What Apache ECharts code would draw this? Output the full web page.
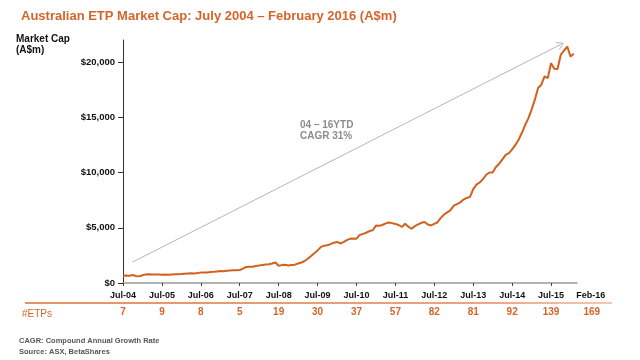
<!DOCTYPE html>
<html>
<head>
<meta charset="utf-8">
<script src="https://cdn.jsdelivr.net/npm/echarts@6/dist/echarts.min.js"></script>
<style>html,body{margin:0;padding:0;background:#fff}#c{width:640px;height:360px}</style>
</head>
<body>
<div id="c"></div>
<script>
// Monthly categories Jul-04 .. Feb-16 (plus one empty month so the axis runs slightly past Feb-16)
const monthNames = ['Jan','Feb','Mar','Apr','May','Jun','Jul','Aug','Sep','Oct','Nov','Dec'];
const months = [];
for (let k = 0; k < 141; k++) {
  const m = (6 + k) % 12, y = 4 + Math.floor((6 + k) / 12);
  months.push(monthNames[m] + '-' + String(y).padStart(2, '0'));
}
// Market cap (A$m), one value per month Jul-04 .. Feb-16
const marketCap = [
  650,680,660,720,640,600,700,780,800,770,760,770,
  750,760,740,770,790,800,810,840,860,880,870,900,
  940,950,960,990,1010,1050,1080,1060,1100,1140,1160,1150,
  1180,1300,1450,1470,1480,1530,1580,1640,1680,1690,1760,1860,
  1560,1620,1650,1580,1620,1660,1770,1850,1990,2200,2450,2700,
  2950,3250,3380,3420,3520,3650,3720,3580,3700,3880,4000,4030,
  4010,4350,4450,4550,4700,4780,5200,5180,5250,5400,5480,5420,
  5350,5250,5070,5370,5100,4910,5150,5300,5450,5520,5300,5210,
  5350,5500,5900,6200,6400,6600,7000,7150,7300,7550,7700,7800,
  8500,8900,9100,9400,9800,10000,10000,10500,10800,11200,11600,11760,
  12100,12500,12970,13600,14300,14900,15700,16600,17650,17950,18700,18550,
  19900,19400,19370,20660,21050,21410,20510,20750,
  null
];
const xTickLabels = ['Jul-04','Jul-05','Jul-06','Jul-07','Jul-08','Jul-09','Jul-10','Jul-11','Jul-12','Jul-13','Jul-14','Jul-15','Feb-16'];
const etpCounts = [7,9,8,5,19,30,37,57,82,81,92,139,169];
const yTicks = [0,5000,10000,15000,20000];
const trendStart = ['Oct-04', 1900];
const trendEnd = ['Oct-15', 21600];

const ORANGE = '#D4642A';
const FONT = '"Liberation Sans", Arial, Helvetica, sans-serif';
const labelIdx = i => (i % 12 === 0 && i <= 132) || months[i] === 'Feb-16';
const labelPos = i => months[i] === 'Feb-16' ? xTickLabels.length - 1 : i / 12;

const chart = echarts.init(document.getElementById('c'));
chart.setOption({
  animation: false,
  textStyle: { fontFamily: FONT },
  title: {
    text: 'Australian ETP Market Cap: July 2004 \u2013 February 2016 (A$m)',
    left: 16, top: 5,
    textStyle: { color: ORANGE, fontSize: 13, fontWeight: 'bold', fontFamily: FONT }
  },
  grid: { left: 123, right: 63, top: 40, bottom: 77 },
  xAxis: [
    {
      type: 'category', data: months, boundaryGap: false,
      axisLine: { lineStyle: { color: '#999', width: 1.5 } },
      axisTick: { interval: (i) => i % 12 === 0, length: 3, lineStyle: { color: '#444' } },
      axisLabel: {
        interval: (i) => labelIdx(i), margin: 8,
        color: '#111', fontSize: 9, fontWeight: 'bold', fontFamily: FONT,
        formatter: (v, i) => {
          const t = xTickLabels[labelPos(i)];
          return months[i] === 'Feb-16' ? '{f|' + t + '}' : t;
        },
        rich: { f: { padding: [0, 0, 0, 34], fontSize: 9, fontWeight: 'bold', color: '#111', fontFamily: FONT } }
      },
      splitLine: { show: false }
    },
    {
      type: 'category', data: months, boundaryGap: false, position: 'bottom',
      axisLine: { show: false }, axisTick: { show: false },
      axisLabel: {
        interval: (i) => labelIdx(i), margin: 24,
        color: ORANGE, fontSize: 10, fontWeight: 'bold', fontFamily: FONT,
        formatter: (v, i) => {
          const t = String(etpCounts[labelPos(i)]);
          return months[i] === 'Feb-16' ? '{f|' + t + '}' : t;
        },
        rich: { f: { padding: [0, 0, 0, 36], fontSize: 10, fontWeight: 'bold', color: ORANGE, fontFamily: FONT } }
      },
      splitLine: { show: false }
    }
  ],
  yAxis: {
    type: 'value', min: 0, max: 22000,
    axisLine: { show: true, lineStyle: { color: '#333', width: 1 } },
    axisTick: { show: true, customValues: yTicks, length: 5, lineStyle: { color: '#333' } },
    axisLabel: {
      customValues: yTicks, margin: 8,
      color: '#111', fontSize: 9.5, fontWeight: 'bold', fontFamily: FONT,
      formatter: v => '$' + v.toLocaleString('en-US')
    },
    splitLine: { show: false }
  },
  series: [{
    type: 'line', data: marketCap, xAxisIndex: 0,
    showSymbol: false, smooth: false,
    lineStyle: { color: '#D2601E', width: 2 },
    markLine: {
      silent: true,
      symbol: ['none', 'path://M0,10 L5,0 L10,10 L8.6,10 L5,2.6 L1.4,10 Z'],
      symbolSize: [9, 7],
      label: { show: false },
      lineStyle: { color: '#b5b5b5', width: 1, type: 'solid' },
      data: [[{ coord: trendStart }, { coord: trendEnd }]]
    }
  }],
  graphic: [
    { type: 'text', left: 16, top: 34, style: { text: 'Market Cap\n(A$m)', fill: '#111', font: 'bold 10px ' + FONT, lineHeight: 11 } },
    { type: 'text', left: 300, top: 120, style: { text: '04 \u2013 16YTD\nCAGR 31%', fill: '#8c8c8c', font: 'bold 10px ' + FONT, lineHeight: 11 } },
    { type: 'line', shape: { x1: 25, y1: 303, x2: 612, y2: 303 },
      style: { lineWidth: 1.5, stroke: { type: 'linear', x: 0, y: 0, x2: 1, y2: 0, colorStops: [{ offset: 0, color: '#DB6F35' }, { offset: 0.75, color: '#E28455' }, { offset: 1, color: '#F0B596' }] } } },
    { type: 'text', left: 22, top: 309, style: { text: '#ETPs', fill: ORANGE, font: '10px ' + FONT } },
    { type: 'text', left: 19, top: 335, style: { text: 'CAGR: Compound Annual Growth Rate\nSource: ASX, BetaShares', fill: '#555', font: 'bold 7.5px ' + FONT, lineHeight: 11 } }
  ]
});
</script>
</body>
</html>
